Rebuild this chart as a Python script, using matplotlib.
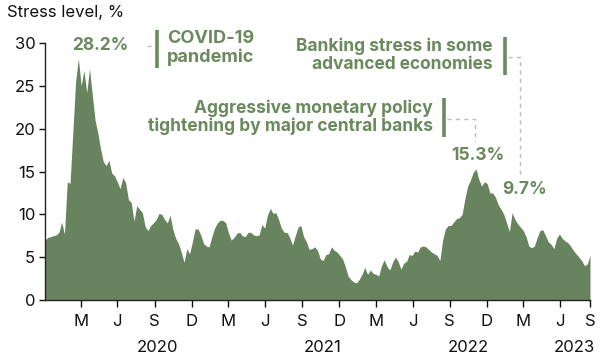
import numpy as np
import pandas as pd
import matplotlib
matplotlib.use('Agg')
import matplotlib.pyplot as plt
from matplotlib.lines import Line2D

# weekly stress level readings, %
stress = [
    7.0, 7.3, 7.4, 7.5, 7.6, 7.9, 9.1, 7.7, 13.8, 13.6,
    19.5, 25.5, 28.2, 25.0, 26.8, 24.2, 27.0, 24.0, 21.0, 19.5,
    17.6, 16.1, 15.7, 16.3, 14.8, 14.5, 13.8, 13.0, 14.3, 13.7,
    11.7, 11.4, 9.2, 11.0, 10.6, 10.2, 8.6, 8.1, 8.7, 9.0,
    9.4, 10.1, 10.0, 9.4, 9.0, 9.9, 8.2, 7.2, 6.6, 5.6,
    4.4, 6.0, 5.4, 6.8, 8.3, 8.3, 7.6, 6.6, 6.3, 6.2,
    7.4, 8.4, 9.0, 9.3, 9.3, 9.0, 7.8, 7.0, 7.3, 7.8,
    7.9, 7.5, 7.4, 7.9, 7.9, 7.6, 7.5, 7.6, 8.8, 8.4,
    9.9, 10.7, 10.1, 10.2, 9.4, 8.4, 7.9, 7.9, 7.3, 6.4,
    7.5, 8.5, 8.7, 7.4, 6.8, 5.9, 6.0, 6.2, 5.8, 4.8,
    4.6, 5.3, 5.4, 6.2, 5.8, 5.6, 5.2, 4.8, 3.9, 2.8,
    2.4, 2.1, 2.0, 2.4, 3.0, 3.8, 3.0, 3.5, 3.1, 3.0,
    2.8, 4.0, 4.7, 3.9, 3.5, 4.4, 5.0, 4.5, 3.6, 4.3,
    4.5, 5.3, 5.2, 5.7, 5.6, 6.2, 6.3, 6.2, 5.9, 5.6,
    5.4, 5.2, 4.6, 7.0, 8.3, 8.7, 8.7, 9.1, 9.5, 9.6,
    10.0, 11.8, 13.3, 14.0, 14.9, 15.3, 14.1, 13.3, 13.8, 13.6,
    12.5, 12.5, 12.0, 11.1, 10.6, 10.0, 9.0, 8.0, 10.2, 9.4,
    8.9, 8.5, 8.1, 7.4, 6.3, 6.1, 6.3, 7.3, 8.1, 8.2,
    7.5, 6.8, 6.5, 6.0, 7.2, 7.7, 7.2, 6.9, 6.7, 6.3,
    5.8, 5.4, 5.0, 4.6, 4.0, 4.2, 5.2,
]
start_date = '2020-01-03'
end_date = '2023-09-12'

tick_dates = ['2020-03-31', '2020-06-30', '2020-09-30', '2020-12-31',
              '2021-03-31', '2021-06-30', '2021-09-30', '2021-12-31',
              '2022-03-31', '2022-06-30', '2022-09-30', '2022-12-31',
              '2023-03-31', '2023-06-30', '2023-09-12']
tick_labels = ['M', 'J', 'S', 'D', 'M', 'J', 'S', 'D',
               'M', 'J', 'S', 'D', 'M', 'J', 'S']
year_labels = ['2020', '2021', '2022', '2023']
y_ticks = [0, 5, 10, 15, 20, 25, 30]

peak_labels = ['28.2%', '15.3%', '9.7%']
event_labels = ['COVID-19\npandemic',
                'Aggressive monetary policy\ntightening by major central banks',
                'Banking stress in some\nadvanced economies']

AREA = '#68845e'
GREEN = '#6a8a5e'
DASH = '#bdbdbd'

plt.rcParams['font.family'] = ['Inter', 'DejaVu Sans']

W, H = 600, 362
fig = plt.figure(figsize=(W / 100, H / 100), dpi=100)


def px(x, y):
    # pixel position (from top-left) to figure fraction
    return x / W, 1 - y / H


ax = fig.add_axes([45 / W, 1 - 300 / H, 545 / W, 257 / H])

dates = pd.date_range(start_date, end_date, periods=len(stress))
ax.fill_between(dates, stress, 0, color=AREA, lw=0)

ax.set_xlim(pd.Timestamp(start_date), pd.Timestamp(end_date))
ax.set_ylim(0, 30)
ax.set_yticks(y_ticks)
ax.set_xticks(pd.to_datetime(tick_dates))
ax.set_xticklabels(tick_labels)

for s in ['top', 'right']:
    ax.spines[s].set_visible(False)
for s in ['left', 'bottom']:
    ax.spines[s].set_color('#222222')
    ax.spines[s].set_linewidth(1)
ax.tick_params(axis='y', length=4, width=1, pad=3, labelsize=12, colors='#111111')
ax.tick_params(axis='x', length=5, width=1, pad=5, labelsize=12, colors='#111111')

# year labels under month letters
for lab, x in zip(year_labels, [157, 323, 468, 574]):
    fig.text(*px(x, 348), lab, ha='center', va='center', fontsize=12, color='#111111')

fig.text(*px(7, 12), 'Stress level, %', ha='left', va='center', fontsize=12, color='#111111')


def bar(x, y0, y1):
    fig.add_artist(Line2D([x / W, x / W], [1 - y0 / H, 1 - y1 / H],
                          color=GREEN, lw=2.6, solid_capstyle='butt'))


def dash(xs, ys):
    fig.add_artist(Line2D([x / W for x in xs], [1 - y / H for y in ys],
                          color=DASH, lw=1, linestyle=(0, (3, 3))))


txt = dict(color=GREEN, fontweight='bold', fontsize=12.5, linespacing=1.05)

# COVID-19
fig.text(*px(100, 46), peak_labels[0], ha='center', va='center', **txt)
dash([147, 155], [46, 46])
bar(157, 30, 68)
fig.text(*px(167, 48), event_labels[0], ha='left', va='center', fontsize=13,
         **{k: v for k, v in txt.items() if k != 'fontsize'})

# monetary policy tightening
fig.text(*px(433, 117), event_labels[1], ha='right', va='center', multialignment='right', **txt)
bar(444, 98, 137)
dash([447, 475, 475], [119, 119, 142])
fig.text(*px(478, 156), peak_labels[1], ha='center', va='center', **txt)

# banking stress
fig.text(*px(493, 55), event_labels[2], ha='right', va='center', multialignment='right', **txt)
bar(505, 37, 75)
dash([508, 520, 520], [57, 57, 175])
fig.text(*px(525, 190), peak_labels[2], ha='center', va='center', **txt)

fig.savefig('out.png', dpi=100)
